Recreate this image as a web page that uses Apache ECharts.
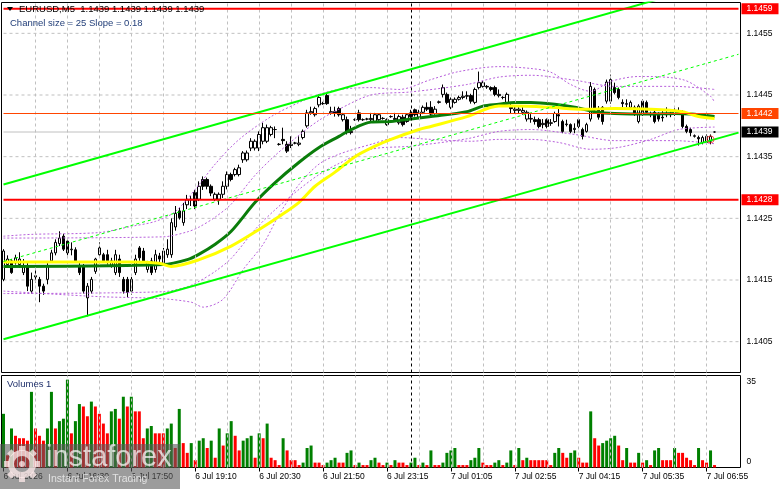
<!DOCTYPE html>
<html><head><meta charset="utf-8">
<script src="https://cdn.jsdelivr.net/npm/echarts@6/dist/echarts.min.js"></script>
<style>html,body{margin:0;padding:0;background:#fff}#c{width:781px;height:489px}</style>
</head><body><div id="c"></div>
<script>
// ---- data ----
const openP = [1.14151,1.14175,1.14181,1.14178,1.14175,1.14162,1.14173,1.14132,1.14155,1.14151,
1.14140,1.14151,1.14181,1.14194,1.14209,1.14221,1.14213,1.14199,1.14199,1.14173,
1.14173,1.14121,1.14132,1.14164,1.14191,1.14191,1.14191,1.14173,1.14162,1.14184,
1.14151,1.14151,1.14132,1.14162,1.14202,1.14197,1.14167,1.14181,1.14167,1.14189,
1.14178,1.14191,1.14191,1.14236,1.14262,1.14243,1.14272,1.14281,1.14292,1.14281,
1.14313,1.14313,1.14302,1.14281,1.14281,1.14289,1.14302,1.14321,1.14321,1.14321,
1.14345,1.14345,1.14364,1.14364,1.14364,1.14375,1.14375,1.14386,1.14394,1.14370,
1.14378,1.14370,1.14368,1.14372,1.14370,1.14381,1.14400,1.14421,1.14418,1.14434,
1.14436,1.14449,1.14421,1.14423,1.14428,1.14410,1.14410,1.14389,1.14410,1.14421,
1.14410,1.14411,1.14410,1.14407,1.14410,1.14412,1.14402,1.14415,1.14410,1.14405,
1.14414,1.14407,1.14421,1.14426,1.14414,1.14422,1.14430,1.14430,1.14420,1.14438,
1.14451,1.14451,1.14430,1.14438,1.14443,1.14446,1.14448,1.14449,1.14438,1.14462,
1.14464,1.14464,1.14462,1.14462,1.14449,1.14446,1.14438,1.14430,1.14425,1.14425,
1.14422,1.14411,1.14411,1.14410,1.14410,1.14402,1.14410,1.14404,1.14407,1.14418,
1.14407,1.14402,1.14402,1.14394,1.14410,1.14394,1.14391,1.14411,1.14459,1.14427,
1.14430,1.14440,1.14440,1.14462,1.14459,1.14438,1.14435,1.14430,1.14430,1.14407,
1.14440,1.14438,1.14420,1.14422,1.14419,1.14414,1.14418,1.14420,1.14419,1.14420,
1.14422,1.14399,1.14394,1.14383,1.14381,1.14373,1.14373,1.14375,1.14390];
const closeP = [1.14197,1.14184,1.14162,1.14186,1.14184,1.14173,1.14140,1.14151,1.14157,1.14140,
1.14132,1.14173,1.14194,1.14211,1.14218,1.14200,1.14194,1.14200,1.14181,1.14162,
1.14132,1.14140,1.14151,1.14184,1.14202,1.14181,1.14181,1.14181,1.14191,1.14162,
1.14132,1.14130,1.14151,1.14184,1.14186,1.14181,1.14178,1.14162,1.14191,1.14184,
1.14197,1.14200,1.14243,1.14258,1.14251,1.14262,1.14280,1.14280,1.14270,1.14302,
1.14302,1.14302,1.14291,1.14289,1.14289,1.14302,1.14321,1.14313,1.14329,1.14332,
1.14356,1.14356,1.14375,1.14375,1.14386,1.14397,1.14397,1.14397,1.14394,1.14370,
1.14376,1.14359,1.14370,1.14372,1.14372,1.14391,1.14421,1.14423,1.14428,1.14446,
1.14436,1.14436,1.14423,1.14421,1.14418,1.14418,1.14389,1.14391,1.14410,1.14410,
1.14410,1.14411,1.14412,1.14418,1.14418,1.14412,1.14410,1.14415,1.14412,1.14415,
1.14402,1.14418,1.14415,1.14418,1.14422,1.14430,1.14427,1.14419,1.14427,1.14439,
1.14462,1.14438,1.14443,1.14443,1.14446,1.14448,1.14449,1.14440,1.14459,1.14470,
1.14470,1.14463,1.14459,1.14451,1.14451,1.14446,1.14451,1.14428,1.14427,1.14427,
1.14425,1.14422,1.14412,1.14407,1.14399,1.14404,1.14399,1.14405,1.14420,1.14416,
1.14391,1.14403,1.14391,1.14396,1.14399,1.14383,1.14402,1.14464,1.14427,1.14414,
1.14407,1.14471,1.14475,1.14454,1.14446,1.14436,1.14436,1.14438,1.14419,1.14432,
1.14419,1.14422,1.14418,1.14407,1.14411,1.14413,1.14420,1.14418,1.14420,1.14422,
1.14399,1.14391,1.14389,1.14384,1.14379,1.14381,1.14383,1.14383,1.14390];
const lowP = [1.14148,1.14172,1.14160,1.14175,1.14170,1.14158,1.14132,1.14128,1.14146,1.14114,
1.14126,1.14143,1.14178,1.14190,1.14205,1.14197,1.14190,1.14190,1.14178,1.14158,
1.14128,1.14091,1.14128,1.14160,1.14186,1.14178,1.14175,1.14170,1.14158,1.14155,
1.14128,1.14122,1.14126,1.14158,1.14181,1.14178,1.14162,1.14158,1.14162,1.14178,
1.14175,1.14186,1.14186,1.14230,1.14248,1.14238,1.14265,1.14270,1.14265,1.14278,
1.14296,1.14297,1.14286,1.14278,1.14272,1.14283,1.14297,1.14310,1.14318,1.14318,
1.14340,1.14342,1.14359,1.14360,1.14359,1.14370,1.14372,1.14383,1.14380,1.14368,
1.14370,1.14356,1.14364,1.14370,1.14367,1.14378,1.14397,1.14418,1.14415,1.14430,
1.14434,1.14434,1.14418,1.14415,1.14415,1.14407,1.14386,1.14386,1.14408,1.14407,
1.14408,1.14409,1.14407,1.14405,1.14408,1.14410,1.14400,1.14413,1.14407,1.14402,
1.14399,1.14405,1.14410,1.14415,1.14411,1.14419,1.14424,1.14416,1.14418,1.14436,
1.14446,1.14435,1.14427,1.14436,1.14441,1.14443,1.14443,1.14436,1.14435,1.14459,
1.14462,1.14460,1.14456,1.14448,1.14446,1.14443,1.14435,1.14420,1.14420,1.14420,
1.14418,1.14407,1.14405,1.14402,1.14396,1.14396,1.14396,1.14400,1.14405,1.14399,
1.14388,1.14399,1.14388,1.14388,1.14396,1.14378,1.14389,1.14407,1.14424,1.14410,
1.14402,1.14436,1.14436,1.14451,1.14443,1.14430,1.14430,1.14428,1.14416,1.14404,
1.14416,1.14419,1.14414,1.14404,1.14407,1.14407,1.14414,1.14414,1.14416,1.14418,
1.14396,1.14388,1.14383,1.14381,1.14368,1.14370,1.14370,1.14370,1.14389];
const highP = [1.14200,1.14190,1.14184,1.14191,1.14195,1.14184,1.14178,1.14162,1.14166,1.14155,
1.14144,1.14178,1.14199,1.14216,1.14229,1.14225,1.14216,1.14211,1.14203,1.14178,
1.14176,1.14145,1.14155,1.14186,1.14211,1.14194,1.14199,1.14186,1.14199,1.14191,
1.14155,1.14155,1.14155,1.14191,1.14205,1.14202,1.14181,1.14186,1.14199,1.14194,
1.14202,1.14216,1.14250,1.14270,1.14267,1.14275,1.14288,1.14286,1.14296,1.14310,
1.14318,1.14316,1.14305,1.14292,1.14292,1.14310,1.14326,1.14324,1.14332,1.14337,
1.14359,1.14360,1.14380,1.14378,1.14391,1.14405,1.14402,1.14400,1.14399,1.14372,
1.14397,1.14375,1.14383,1.14374,1.14383,1.14394,1.14426,1.14431,1.14431,1.14451,
1.14439,1.14452,1.14431,1.14431,1.14431,1.14421,1.14415,1.14400,1.14412,1.14426,
1.14412,1.14413,1.14421,1.14421,1.14420,1.14414,1.14412,1.14417,1.14421,1.14418,
1.14418,1.14420,1.14426,1.14428,1.14426,1.14433,1.14438,1.14440,1.14432,1.14441,
1.14467,1.14454,1.14446,1.14446,1.14449,1.14456,1.14456,1.14452,1.14462,1.14488,
1.14473,1.14466,1.14464,1.14465,1.14459,1.14448,1.14454,1.14438,1.14432,1.14433,
1.14431,1.14425,1.14419,1.14415,1.14413,1.14411,1.14412,1.14411,1.14423,1.14431,
1.14410,1.14410,1.14404,1.14404,1.14412,1.14397,1.14405,1.14471,1.14462,1.14432,
1.14432,1.14475,1.14483,1.14470,1.14462,1.14443,1.14443,1.14441,1.14433,1.14435,
1.14443,1.14441,1.14423,1.14425,1.14422,1.14425,1.14430,1.14423,1.14430,1.14430,
1.14425,1.14402,1.14397,1.14386,1.14384,1.14384,1.14386,1.14386,1.14391];
const volumes = [22,5,16,13,12,12,11,31,16,13, 11,16,31,16,19,20,36,14,19,26,
25,21,27,25,22,18,14,23,24,20, 29,25,29,23,23,12,16,17,14,14,
14,16,18,8,24,10,6,10,3,11, 12,8,11,4,16,9,14,19,13,7,
11,12,13,4,14,12,18,4,3,1, 12,7,3,3,1,2,8,9,2,2,
1,2,3,4,2,2,6,7,1,2, 1,1,3,4,2,1,2,1,3,2,
2,1,2,4,1,2,1,7,1,1, 2,6,7,8,1,1,1,3,4,8,
2,1,1,2,3,1,2,7,1,8, 3,4,3,3,3,3,3,1,6,8,
6,4,6,7,4,2,2,23,12,9, 10,11,12,13,9,3,8,2,2,6,
2,3,1,7,8,3,3,3,8,6, 6,4,3,1,8,3,2,7,1];
// moving averages & bands (bar index, price)
const maFast = [[0,1.14172],[40,1.14175],[46,1.14183],[49,1.14192],[53,1.14208],[57,1.14229],[63,1.14276],[68,1.14308],[74,1.14341],[79,1.14365],[84,1.14383],[87,1.14394],[92,1.14406],[97,1.14407],[102,1.14411],[107,1.14415],[116,1.14423],[120,1.14432],[124,1.14435],[128,1.14438],[132,1.14438],[138,1.14435],[143,1.14430],[148,1.14423],[153,1.14420],[162,1.14419],[168,1.14420],[172,1.14419],[178,1.14415]];
const maSlow = [[0,1.14179],[32,1.14179],[39,1.14177],[42,1.14172],[49,1.14183],[57,1.14205],[64,1.14232],[69,1.14253],[74,1.14276],[78,1.14302],[83,1.14325],[88,1.14350],[93,1.14367],[97,1.14378],[104,1.14394],[107,1.14399],[116,1.14415],[124,1.14432],[128,1.14432],[137,1.14430],[145,1.14427],[153,1.14428],[162,1.14427],[170,1.14423],[174,1.14415],[178,1.14412]];
const bollUpper = [[0,1.14221],[7,1.14224],[24,1.14227],[32,1.14237],[38,1.14245],[43,1.14261],[49,1.14305],[53,1.14338],[59,1.14378],[67,1.14415],[74,1.14438],[79,1.14451],[84,1.14459],[92,1.14462],[99,1.14459],[107,1.14475],[114,1.14488],[124,1.14496],[132,1.14493],[137,1.14487],[142,1.14467],[147,1.14456],[152,1.14472],[159,1.14480],[170,1.14475],[177,1.14448],[178,1.14438]];
const bollLower = [[0,1.14132],[24,1.14123],[39,1.14120],[47,1.14114],[50,1.14106],[55,1.14119],[60,1.14167],[65,1.14208],[69,1.14256],[74,1.14305],[79,1.14338],[84,1.14354],[92,1.14370],[99,1.14381],[107,1.14378],[117,1.14375],[124,1.14378],[132,1.14378],[139,1.14373],[147,1.14362],[154,1.14365],[162,1.14378],[169,1.14394],[178,1.14398]];
const envUpper = [[0,1.14218],[40,1.14220],[46,1.14228],[49,1.14236],[53,1.14252],[57,1.14273],[63,1.14320],[68,1.14352],[74,1.14385],[79,1.14409],[84,1.14427],[92,1.14450],[102,1.14455],[116,1.14467],[124,1.14479],[132,1.14482],[143,1.14474],[153,1.14464],[168,1.14464],[178,1.14459]];
const envLower = [[0,1.14128],[40,1.14131],[46,1.14139],[49,1.14148],[53,1.14164],[57,1.14185],[63,1.14232],[68,1.14264],[74,1.14297],[79,1.14321],[84,1.14339],[92,1.14362],[102,1.14367],[116,1.14379],[124,1.14391],[132,1.14394],[143,1.14386],[153,1.14376],[168,1.14376],[178,1.14371]];
// channel (bar index, price)
const chanUpper = [[0,1.14305],[184,1.14642]];
const chanMid = [[0,1.14180],[184,1.14516]];
const chanLower = [[0,1.14054],[184,1.14389]];
const redLevels = [1.1459, 1.1428];
const askLevel = 1.1442;
const bidLevel = 1.1439;
const marker = [[177, 1.14378]];
const priceLabels = [1.1405,1.1415,1.1425,1.1435,1.1445,1.1455];
const timeGridIdx = [8,16,24,32,40,48,56,64,72,80,88,96,104,112,120,128,136,144,152,160,168,176];
const separatorIdx = 102;
const labelIdx = [0,16,32,48,64,80,96,112,128,144,160,176];
const labelText = ['6 Jul 2026','6 Jul 16:30','6 Jul 17:50','6 Jul 19:10','6 Jul 20:30','6 Jul 21:50','6 Jul 23:15','7 Jul 01:05','7 Jul 02:55','7 Jul 04:15','7 Jul 05:35','7 Jul 06:55'];
const nSlots = 185;

// ---- build ----
const FF = '"Liberation Sans", Arial, sans-serif';
const lastSlot = nSlots - 1;
const cats = Array.from({length: nSlots}, (_, i) => String(i));
const candles = openP.map((o, i) => [o, closeP[i], lowP[i], highP[i]]);
const volData = volumes.map((v, i) => ({
  value: v,
  itemStyle: {color: (i === 0 || v > volumes[i - 1]) ? '#008000' : '#ff0000'}
}));
const gridLine = {color: '#c0c0c0', type: [3, 3], width: 1};
const hidden = {opacity: 0, width: 0};
const bandStyle = {color: '#b860dc', width: 1, type: [2, 2]};
function levelSeries(name, v, color, width, bg, showLine, z) {
  return {type: 'line', name, xAxisIndex: 0, yAxisIndex: 0, data: [[0, v], [lastSlot, v]], symbol: 'none', z, silent: true,
    lineStyle: showLine ? {color, width, type: 'solid'} : hidden,
    endLabel: {show: true, distance: 3, formatter: p => Number(p.value[1]).toFixed(4),
      color: '#fff', backgroundColor: bg, padding: [1, 6, 0, 5], fontSize: 8.5, fontFamily: FF, lineHeight: 10}};
}
const hGridSeries = priceLabels.map((v, k) => ({type: 'line', name: 'hgrid' + k, xAxisIndex: 0, yAxisIndex: 0,
  data: [[0, v], [lastSlot, v]], symbol: 'none', z: 1, silent: true, lineStyle: gridLine}));
const chart = echarts.init(document.getElementById('c'), null, {renderer: 'canvas'});
chart.setOption({
  animation: false,
  backgroundColor: '#ffffff',
  grid: [
    {left: 1.5, top: 2.5, width: 739, height: 370, show: true, borderColor: '#000', borderWidth: 1},
    {left: 1.5, top: 375.5, width: 739, height: 92, show: true, borderColor: '#000', borderWidth: 1}
  ],
  xAxis: [
    {type: 'category', gridIndex: 0, data: cats, boundaryGap: true, axisLine: {show: false}, axisTick: {show: false}, axisLabel: {show: false}, splitLine: {show: false}},
    {type: 'category', gridIndex: 1, data: cats, boundaryGap: true, axisLine: {show: false},
      axisTick: {show: true, alignWithLabel: true, interval: i => labelIdx.includes(i), length: 4, lineStyle: {color: '#000'}},
      axisLabel: {show: true, interval: i => labelIdx.includes(i), formatter: (v, i) => labelText[labelIdx.indexOf(i)] || '',
        align: 'left', margin: 5, fontSize: 8.5, fontFamily: FF, color: '#000'},
      splitLine: {show: false}}
  ],
  yAxis: [
    {type: 'value', gridIndex: 0, position: 'right', min: 1.1400, max: 1.1460, interval: 0.0005,
      axisLine: {show: false}, axisTick: {show: false}, splitLine: {show: false},
      axisLabel: {margin: 6, fontSize: 8.5, fontFamily: FF, color: '#000',
        formatter: v => priceLabels.some(g => Math.abs(g - v) < 1e-7) ? v.toFixed(4) : ''}},
    {type: 'value', gridIndex: 1, position: 'right', min: 0, max: 37.7, interval: 35,
      axisLine: {show: false}, axisTick: {show: false}, splitLine: {show: false},
      axisLabel: {margin: 6, fontSize: 8.5, fontFamily: FF, color: '#000',
        formatter: v => v === 0 ? '{z|0}' : (v === 35 ? '35' : ''),
        rich: {z: {padding: [0, 0, 12, 0], fontSize: 8.5, fontFamily: FF, color: '#000'}}}}
  ],
  series: [
    ...hGridSeries,
    {type: 'line', name: 'gridMain', xAxisIndex: 0, yAxisIndex: 0, data: [[0, bidLevel]], symbol: 'none', lineStyle: hidden, z: 1, silent: true,
      markLine: {silent: true, symbol: ['none', 'none'], animation: false, label: {show: false}, lineStyle: gridLine,
        data: timeGridIdx.map(i => ({xAxis: i}))
          .concat([{xAxis: separatorIdx, lineStyle: {color: '#000', type: [3, 3], width: 1}}])}},
    {type: 'line', name: 'gridVol', xAxisIndex: 1, yAxisIndex: 1, data: [[0, 0]], symbol: 'none', lineStyle: hidden, z: 1, silent: true,
      markLine: {silent: true, symbol: ['none', 'none'], animation: false, label: {show: false}, lineStyle: gridLine,
        data: timeGridIdx.map(i => ({xAxis: i}))
          .concat([{xAxis: separatorIdx, lineStyle: {color: '#000', type: [3, 3], width: 1}}])}},
    {type: 'line', name: 'bidLine', xAxisIndex: 0, yAxisIndex: 0, data: [[0, bidLevel], [lastSlot, bidLevel]], symbol: 'none', z: 1, silent: true,
      lineStyle: {color: '#c0c0c0', width: 1}},
    {type: 'candlestick', name: 'EURUSD', xAxisIndex: 0, yAxisIndex: 0, data: candles, barWidth: 3, z: 2,
      itemStyle: {color: '#ffffff', color0: '#000000', borderColor: '#000000', borderColor0: '#000000', borderWidth: 1}},
    {type: 'bar', name: 'Volumes', xAxisIndex: 1, yAxisIndex: 1, data: volData, barWidth: 3, z: 2},
    {type: 'line', name: 'bollU', data: bollUpper, symbol: 'none', smooth: 0.3, z: 3, lineStyle: bandStyle},
    {type: 'line', name: 'bollL', data: bollLower, symbol: 'none', smooth: 0.3, z: 3, lineStyle: bandStyle},
    {type: 'line', name: 'envU', data: envUpper, symbol: 'none', smooth: 0.3, z: 3, lineStyle: bandStyle},
    {type: 'line', name: 'envL', data: envLower, symbol: 'none', smooth: 0.3, z: 3, lineStyle: bandStyle},
    {type: 'line', name: 'maFast', data: maFast, symbol: 'none', smooth: 0.3, z: 4,
      lineStyle: {color: '#0a7d0a', width: 3}},
    {type: 'line', name: 'maSlow', data: maSlow, symbol: 'none', smooth: 0.3, z: 5,
      lineStyle: {color: '#ffff00', width: 3}},
    {type: 'line', name: 'chanU', data: chanUpper, symbol: 'none', z: 6, lineStyle: {color: '#00ff00', width: 2}},
    {type: 'line', name: 'chanM', data: chanMid, symbol: 'none', z: 6, lineStyle: {color: '#00ff00', width: 1, type: [3, 3]}},
    {type: 'line', name: 'chanL', data: chanLower, symbol: 'none', z: 6, lineStyle: {color: '#00ff00', width: 2}},
    {type: 'scatter', name: 'marker', data: marker, symbol: 'circle', symbolSize: 7, z: 6, silent: true,
      itemStyle: {color: 'rgba(0,0,0,0)', borderColor: '#ff3030', borderWidth: 1}},
    levelSeries('lvlTop', redLevels[0], '#ff0000', 2, '#ff0000', true, 7),
    levelSeries('lvlBottom', redLevels[1], '#ff0000', 2, '#ff0000', true, 7),
    levelSeries('ask', askLevel, '#ff4500', 1, '#ff4500', true, 7),
    levelSeries('bid', bidLevel, '#000000', 1, '#000000', false, 7)
  ],
  graphic: [
    {type: 'polygon', z: 100, shape: {points: [[7, 7], [13, 7], [10, 11]]}, style: {fill: '#000'}},
    {type: 'text', z: 100, x: 19, y: 4, style: {text: 'EURUSD,M5  1.1439 1.1439 1.1439 1.1439', fill: '#000', font: '9.5px ' + FF}},
    {type: 'text', z: 100, x: 10, y: 18, style: {text: 'Channel size = 25 Slope = 0.18', fill: '#24407a', font: '9.5px ' + FF}},
    {type: 'text', z: 100, x: 7, y: 379, style: {text: 'Volumes 1', fill: '#1e2f6a', font: '9.5px ' + FF}},
    {type: 'rect', z: 100, shape: {x: 0, y: 444, width: 180, height: 45}, style: {fill: 'rgba(90,90,90,0.6)'}},
    {type: 'circle', z: 101, shape: {cx: 22, cy: 464, r: 11}, style: {fill: 'none', stroke: 'rgba(255,235,235,0.75)', lineWidth: 6}},
    {type: 'circle', z: 101, shape: {cx: 22, cy: 464, r: 3}, style: {fill: 'rgba(255,235,235,0.75)'}},
    ...[0, 45, 90, 135, 180, 225, 270, 315].map(a => ({type: 'rect', z: 101, shape: {x: 19, y: 446, width: 6, height: 5},
      originX: 22, originY: 464, rotation: a * Math.PI / 180, style: {fill: 'rgba(255,235,235,0.75)'}})),
    {type: 'text', z: 101, x: 46, y: 443, style: {text: 'instaforex', fill: 'rgba(255,255,255,0.7)', font: '29px ' + FF}},
    {type: 'text', z: 101, x: 48, y: 474, style: {text: 'Instant Forex Trading', fill: 'rgba(255,255,255,0.7)', font: '10.5px ' + FF}}
  ]
});
</script></body></html>
